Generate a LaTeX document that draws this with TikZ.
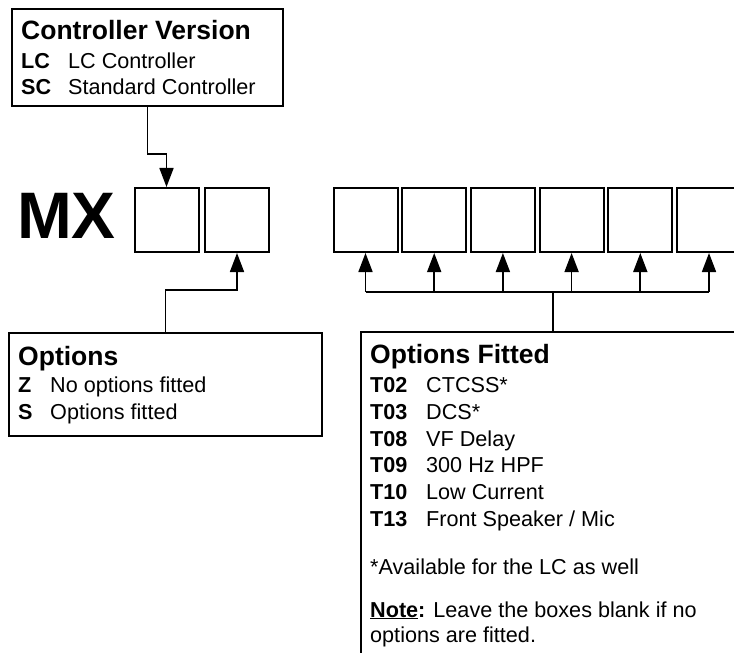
\documentclass[tikz,border=0pt]{standalone}
\usepackage{fontspec}
\setmainfont{Liberation Sans}
\usetikzlibrary{arrows.meta,calc,positioning}

\begin{document}
\begin{tikzpicture}[x=1bp,y=-1bp,
            cell/.style={rectangle,draw=black,line width=2bp,minimum width=64bp,minimum height=64bp,inner sep=0pt},
            infobox/.style={rectangle,draw=black,line width=1.8bp,inner sep=0pt,anchor=north west},
            head/.style={anchor=base west,inner sep=0pt,font=\fontsize{26.6}{30}\selectfont\bfseries},
            code/.style={anchor=base west,inner sep=0pt,font=\fontsize{21.7}{26}\selectfont\bfseries},
            desc/.style={anchor=base west,inner sep=0pt,font=\fontsize{21.7}{26}\selectfont},
            conn/.style={line width=1.7bp,-{Triangle[length=19bp,width=14bp]}}]

            \useasboundingbox (0,0) rectangle (734,653);
            \clip (0,0) rectangle (734,653);

            % model code and the blank cells
            \node (mx) [anchor=base west,inner sep=0pt,font=\fontsize{66}{70}\selectfont\bfseries] at (17,238) {MX};
            \node (ver) [cell] at (166.5,220) {};
            \node (opt) [cell] at (237,220) {};
            \foreach \i in {1,...,6}
               \node (slot\i) [cell] at ({365.5+68.7*(\i-1)},220) {};

            % info boxes
            \node (verbox) [infobox,minimum width=271bp,minimum height=97bp] at (11,8) {};
            \node (optbox) [infobox,minimum width=313bp,minimum height=103bp] at (8,332) {};
            \node (fitbox) [infobox,minimum width=384bp,minimum height=340bp] at (360,331) {};

            \node (verhead) [head] at ($(verbox.north west)+(10,32)$) {Controller Version};
            \foreach \c/\d [count=\i] in {LC/LC Controller,SC/Standard Controller} {
               \node (vercode\i) [code] at ($(verbox.north west)+(10,35+26*\i)$) {\c};
               \node (verdesc\i) [desc] at ($(verbox.north west)+(57,35+26*\i)$) {\d};
            }

            \node (opthead) [head] at ($(optbox.north west)+(10,33)$) {Options};
            \foreach \c/\d [count=\i] in {Z/No options fitted,S/Options fitted} {
               \node (optcode\i) [code] at ($(optbox.north west)+(10,33.5+27*\i)$) {\c};
               \node (optdesc\i) [desc] at ($(optbox.north west)+(42,33.5+27*\i)$) {\d};
            }

            \node (fithead) [head] at ($(fitbox.north west)+(10,32)$) {Options Fitted};
            \foreach \c/\d [count=\i] in {T02/CTCSS*,T03/DCS*,T08/VF Delay,T09/300 Hz HPF,T10/Low Current,T13/{Front Speaker / Mic}} {
               \node (fitcode\i) [code] at ($(fitbox.north west)+(10,35+26.7*\i)$) {\c};
               \node (fitdesc\i) [desc] at ($(fitbox.north west)+(66,35+26.7*\i)$) {\d};
            }
            \node (avail) [desc] at ($(fitbox.north west)+(10,243)$) {*Available for the LC as well};
            \node (note1) [desc] at ($(fitbox.north west)+(10,286)$) {\textbf{\underline{Note}:} Leave the boxes blank if no};
            \node (note2) [desc] at ($(fitbox.north west)+(10,311)$) {options are fitted.};

            % connectors
            \draw[conn] (verbox.south) -- ++(0,47) -| (ver.north);
            \draw[conn] (optbox.north) -- ++(0,-42) -| (opt.south);
            \coordinate (bus) at ($(fitbox.north)+(0,-39)$);
            \draw[line width=1.7bp] (fitbox.north) -- (bus);
            \draw[line width=1.7bp] (slot1.south|-bus) -- (slot6.south|-bus);
            \foreach \i in {1,...,6}
               \draw[conn] (slot\i.south|-bus) -- (slot\i.south);
         \end{tikzpicture}
\end{document}
